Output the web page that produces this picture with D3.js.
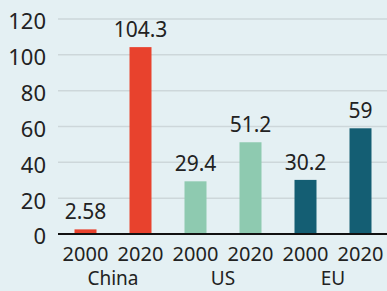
<!DOCTYPE html>
<html>
<head>
<meta charset="utf-8">
<script src="https://cdn.jsdelivr.net/npm/d3@7"></script>
<style>
  body { margin: 0; background: #e4f0f3; }
  svg { display: block; font-family: "Noto Sans", sans-serif; }
</style>
</head>
<body>
<div id="chart"></div>
<script>
// Chart data
var regions = ["China", "US", "EU"];
var years = ["2000", "2020"];
var values = [2.58, 104.3, 29.4, 51.2, 30.2, 59];
var valueLabels = ["2.58", "104.3", "29.4", "51.2", "30.2", "59"];
var yTicks = [0, 20, 40, 60, 80, 100, 120];
var regionColors = ["#e8422d", "#8ecab0", "#145e73"];

var svgWidth = 387;
var svgHeight = 291;

var svg = d3.select("#chart")
  .append("svg")
  .attr("width", svgWidth)
  .attr("height", svgHeight);

// one entry per bar
var bars = [];
regions.forEach(function(r, i) {
  years.forEach(function(y, j) {
    var k = i * years.length + j;
    bars.push({ key: r + y, region: r, ri: i, year: y, value: values[k], label: valueLabels[k] });
  });
});

var xBandScale = d3.scaleBand()
  .domain(bars.map(d => d.key))
  .range([58, 388])
  .paddingInner(0.6)
  .paddingOuter(0.3);

var yLinearScale = d3.scaleLinear()
  .domain([0, 120])
  .range([234, 19]);

// gridlines
svg.append("g")
  .selectAll("line")
  .data(yTicks.filter(t => t > 0))
  .enter()
  .append("line")
  .attr("x1", 58)
  .attr("x2", svgWidth)
  .attr("y1", d => yLinearScale(d))
  .attr("y2", d => yLinearScale(d))
  .style("stroke", "#cdd7da")
  .style("stroke-width", 1.5);

// y axis labels
var leftAxis = d3.axisLeft(yLinearScale).tickValues(yTicks).tickSize(0).tickPadding(12);
var yAxis = svg.append("g")
  .attr("transform", "translate(58,0)")
  .call(leftAxis);
yAxis.select(".domain").remove();
yAxis.selectAll("text")
  .attr("dy", "0.45em")
  .style("font-size", "22px")
  .style("font-family", "Noto Sans, sans-serif")
  .style("fill", "#222");

// bars
svg.selectAll(".bar")
  .data(bars)
  .enter()
  .append("rect")
  .attr("x", d => xBandScale(d.key))
  .attr("y", d => yLinearScale(d.value))
  .attr("width", xBandScale.bandwidth())
  .attr("height", d => yLinearScale(0) - yLinearScale(d.value))
  .style("fill", d => regionColors[d.ri]);

// value labels
svg.selectAll(".val")
  .data(bars)
  .enter()
  .append("text")
  .attr("x", d => xBandScale(d.key) + xBandScale.bandwidth() / 2)
  .attr("y", d => yLinearScale(d.value) - 10)
  .attr("text-anchor", "middle")
  .style("font-size", "21px")
  .style("fill", "#222")
  .text(d => d.label);

// baseline
svg.append("line")
  .attr("x1", 58)
  .attr("x2", svgWidth)
  .attr("y1", yLinearScale(0))
  .attr("y2", yLinearScale(0))
  .style("stroke", "#111")
  .style("stroke-width", 2);

// year labels
svg.selectAll(".year")
  .data(bars)
  .enter()
  .append("text")
  .attr("x", d => xBandScale(d.key) + xBandScale.bandwidth() / 2)
  .attr("y", 261)
  .attr("text-anchor", "middle")
  .style("font-size", "20px")
  .style("fill", "#222")
  .text(d => d.year);

// region labels
svg.selectAll(".region")
  .data(regions)
  .enter()
  .append("text")
  .attr("x", (d, i) => (xBandScale(d + years[0]) + xBandScale(d + years[1]) + xBandScale.bandwidth()) / 2)
  .attr("y", 285)
  .attr("text-anchor", "middle")
  .style("font-size", "19px")
  .style("fill", "#222")
  .text(d => d);
</script>
</body>
</html>
